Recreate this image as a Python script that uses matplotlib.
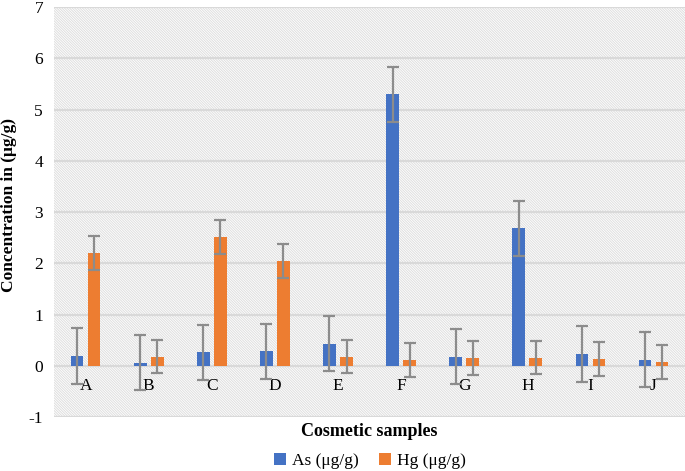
import numpy as np
import matplotlib
matplotlib.use("Agg")
import matplotlib.pyplot as plt
from matplotlib.patches import Rectangle

# sample labels and values
samples = ["A", "B", "C", "D", "E", "F", "G", "H", "I", "J"]
as_vals = [0.19, 0.06, 0.26, 0.28, 0.43, 5.30, 0.18, 2.68, 0.23, 0.12]
hg_vals = [2.20, 0.18, 2.52, 2.05, 0.18, 0.11, 0.15, 0.16, 0.14, 0.07]
as_err = [0.54] * 10
hg_err = [0.33] * 10

plt.rcParams['font.family'] = ['Liberation Serif', 'DejaVu Serif']
plt.rcParams['axes.unicode_minus'] = False
plt.rcParams['hatch.color'] = '#dedede'
plt.rcParams['hatch.linewidth'] = 0.7

fig = plt.figure(figsize=(6.85, 4.71), dpi=100)
ax = fig.add_axes([0.079, 0.1146, 0.921, 0.8704])

# hatched background
ax.add_patch(Rectangle((0, 0), 1, 1, transform=ax.transAxes, facecolor='white',
                       edgecolor='#dedede', hatch='\\' * 13, linewidth=0, zorder=0.1))

x = np.arange(len(samples))
w = 0.2
eb = dict(ecolor='#8c8c8c', elinewidth=1.6, capsize=4.5, capthick=1.6)
ax.bar(x - 0.135, as_vals, w, color='#4472C4', yerr=as_err, error_kw=eb,
       label='As (μg/g)', zorder=2)
ax.bar(x + 0.135, hg_vals, w, color='#ED7D31', yerr=hg_err, error_kw=eb,
       label='Hg (μg/g)', zorder=2)

ax.set_ylim(-1, 7)
ax.set_xlim(-0.5, len(samples) - 0.5)
ax.set_yticks(range(-1, 8))
ax.grid(axis='y', color='#d9d9d9', linewidth=1.6, zorder=0.5)
ax.set_axisbelow(True)

for s in ['top', 'right', 'left']:
    ax.spines[s].set_visible(False)
ax.spines['bottom'].set_position(('data', 0))
ax.spines['bottom'].set_visible(False)
ax.set_xticks(x)
ax.set_xticklabels(samples)
ax.tick_params(axis='x', length=0, pad=9, labelsize=12.5)
ax.tick_params(axis='y', length=0, pad=8, labelsize=12.5)

fig.text(0.013, 0.565, 'Concentration in (μg/g)', rotation=90, ha='center', va='center',
         fontsize=12.5, fontweight='bold')
fig.text(0.539, 0.083, 'Cosmetic samples', ha='center', va='center',
         fontsize=13, fontweight='bold')

fig.legend(loc='center', bbox_to_anchor=(0.54, 0.022), ncol=2, frameon=False,
           fontsize=12.5, handlelength=0.7, handleheight=0.7, handletextpad=0.3,
           columnspacing=1.2)

fig.savefig('out.png', dpi=100)
